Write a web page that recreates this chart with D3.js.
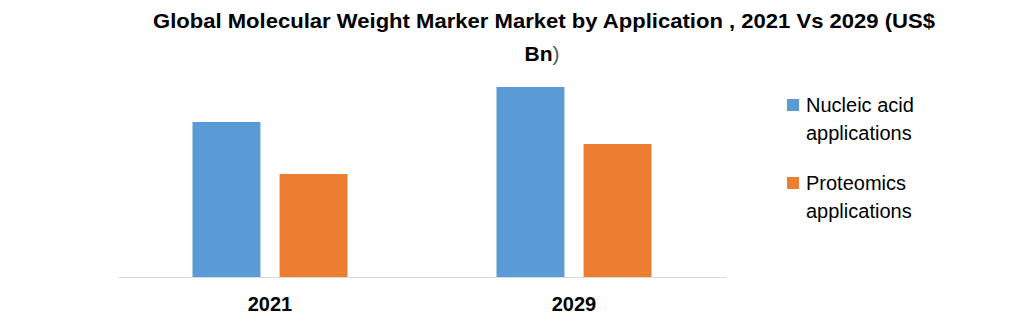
<!DOCTYPE html>
<html>
<head>
<meta charset="utf-8">
<script src="https://cdn.jsdelivr.net/npm/d3@7"></script>
<style>
  body { margin: 0; background: #fff; }
  svg text { font-family: "Liberation Sans", Arial, sans-serif; }
</style>
</head>
<body>
<div class="chart"></div>
<script>
// chart data
const years = ["2021", "2029"];
const seriesNames = ["Nucleic acid applications", "Proteomics applications"];
const nucleicAcid = [1.55, 1.90];
const proteomics = [1.03, 1.33];
const legendLines = [["Nucleic acid", "applications"], ["Proteomics", "applications"]];
const colors = ["#5B9BD5", "#ED7D31"];

const width = 1031,
      height = 322;

const svg = d3.select(".chart")
              .append("svg")
              .attr("width", width)
              .attr("height", height);

// title
const title = svg.append("text")
                 .attr("text-anchor", "middle")
                 .attr("font-weight", "bold")
                 .attr("font-size", 21)
                 .attr("fill", "#000");
title.append("tspan")
     .attr("x", 544).attr("y", 28)
     .attr("textLength", 782)
     .attr("lengthAdjust", "spacingAndGlyphs")
     .text("Global Molecular Weight Marker Market by Application , 2021 Vs 2029 (US$");
const line2 = title.append("tspan").attr("x", 542).attr("y", 61);
line2.append("tspan").text("Bn");
line2.append("tspan").attr("font-weight", "normal").attr("fill", "#595959").text(")");

// scales
const x0 = d3.scaleBand()
             .domain(years)
             .range([118, 726]);

const x1 = d3.scaleBand()
             .domain(seriesNames)
             .range([74.5, 304 - 74.5])
             .paddingInner(0.22);

const y = d3.scaleLinear()
            .domain([0, 2.2])
            .range([277, 57]);

const rows = years.map((yr, i) => ({ year: yr, values: [nucleicAcid[i], proteomics[i]] }));

// bars
svg.append("g")
   .selectAll("g")
   .data(rows)
   .enter()
     .append("g")
     .attr("transform", d => `translate(${x0(d.year)},0)`)
     .selectAll("rect")
     .data(d => d.values.map((v, j) => ({ name: seriesNames[j], value: v, color: colors[j] })))
     .enter()
       .append("rect")
       .attr("x", d => x1(d.name))
       .attr("width", x1.bandwidth())
       .attr("y", d => y(d.value))
       .attr("height", d => y(0) - y(d.value))
       .attr("fill", d => d.color);

// x axis
const xAxis = svg.append("g")
                 .attr("transform", `translate(0,${y(0)})`)
                 .call(d3.axisBottom(x0).tickSize(0).tickPadding(20));
xAxis.select(".domain").attr("stroke", "#d9d9d9").attr("stroke-width", 1.2);
xAxis.selectAll("text")
     .attr("font-family", "Liberation Sans, Arial, sans-serif")
     .attr("font-size", 20)
     .attr("font-weight", "bold")
     .attr("fill", "#000");

// legend
const legend = svg.append("g")
                  .selectAll("g")
                  .data(seriesNames)
                  .enter()
                    .append("g")
                    .attr("transform", (d, i) => `translate(787,${99 + i * 78})`);
legend.append("rect")
      .attr("width", 12)
      .attr("height", 12)
      .attr("fill", (d, i) => colors[i]);
legend.append("text")
      .attr("font-size", 20)
      .attr("fill", "#000")
      .selectAll("tspan")
      .data((d, i) => legendLines[i])
      .enter()
        .append("tspan")
        .attr("x", 19)
        .attr("y", (d, k) => 13 + k * 28)
        .text(d => d);
</script>
</body>
</html>
